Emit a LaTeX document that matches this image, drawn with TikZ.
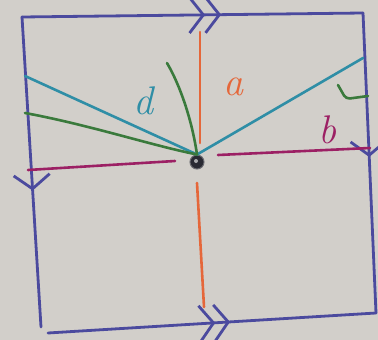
\documentclass[tikz,border=0pt]{standalone}
\usetikzlibrary{arrows.meta,decorations.markings,calc}
\definecolor{paper}{HTML}{D2CFCA}
\definecolor{sqblue}{HTML}{4B4A9E}
\definecolor{aorange}{HTML}{E5673A}
\definecolor{bmagenta}{HTML}{9C2064}
\definecolor{dteal}{HTML}{2F8EA6}
\definecolor{cgreen}{HTML}{3A7A3C}
\definecolor{dotc}{HTML}{2A2A33}
\tikzset{
  side/.style={draw=sqblue, line width=2.8pt, line cap=round},
  strand/.style={line width=2.6pt, line cap=round},
  lbl/.style={font=\fontsize{40}{40}\selectfont\itshape, inner sep=0pt},
  barb/.tip={Straight Barb[length=14pt, width=36pt, line width=2.8pt]},
  onearrow/.style={postaction={decorate},
    decoration={markings, mark=at position #1 with {\arrow[sqblue]{barb}}}},
  twoarrow/.style 2 args={postaction={decorate},
    decoration={markings,
      mark=at position #1 with {\arrow[sqblue]{barb}},
      mark=at position #2 with {\arrow[sqblue]{barb}}}},
  vertex/.style={circle, fill=dotc, draw=dotc!70!white, line width=1pt,
    minimum size=14pt, inner sep=0pt}
}
\begin{document}
\begin{tikzpicture}[x=1pt, y=-1pt]
  \useasboundingbox[fill=paper] (0,0) rectangle (378,340);
  % corners of the square
  \coordinate (tl) at (22,17);
  \coordinate (tr) at (363,13);
  \coordinate (br) at (376,313);
  \coordinate (bl) at (41,327);
  \coordinate (bl') at (48,333);
  % sides, glued by the arrows
  \draw[side, twoarrow={0.537}{0.584}] (tl) -- (tr);
  \draw[side, twoarrow={0.51}{0.555}] (bl') -- (br);
  \draw[side, onearrow=0.56] (tl) -- (bl);
  \draw[side, onearrow=0.48] (tr) -- (br);
  % the point
  \node[vertex] (p) at (197,162) {};
  % a
  \coordinate (a1) at (200,32);
  \coordinate (a2) at (200,143);
  \coordinate (a3) at (197,183);
  \coordinate (a4) at (204,307);
  \draw[strand, aorange] (a1) -- (a2);
  \draw[strand, aorange] (a3) -- (a4);
  % b
  \coordinate (b1) at (28,170);
  \coordinate (b2) at (175,161);
  \coordinate (b3) at (218,155);
  \coordinate (b4) at (370,148);
  \draw[strand, bmagenta] (b1) -- (b2);
  \draw[strand, bmagenta] (b3) -- (b4);
  % d
  \coordinate (d1) at (25,76);
  \coordinate (d2) at (363,58);
  \draw[strand, dteal] (d1) -- (p.north) -- (d2);
  % green curve
  \coordinate (c1) at (25,113);
  \coordinate (c2) at (167,63);
  \coordinate (c3) at (338,85);
  \coordinate (c4) at (368,96);
  \draw[strand, cgreen] (c1) .. controls (90,125) and (150,145) .. (p.north);
  \draw[strand, cgreen] (c2) .. controls (180,85) and (192,120) .. (p.north);
  \draw[strand, cgreen, rounded corners=4pt] (c3) -- (346,99) -- (c4);
  \fill[dotc!40!white] ($(p.center)+(-1,-1)$) circle (2pt);
  % labels
  \node[lbl, aorange] (la) at (233,87) {a};
  \node[lbl, bmagenta] (lb) at (327,130) {b};
  \node[lbl, dteal] (ld) at (143,101) {d};
\end{tikzpicture}
\end{document}
